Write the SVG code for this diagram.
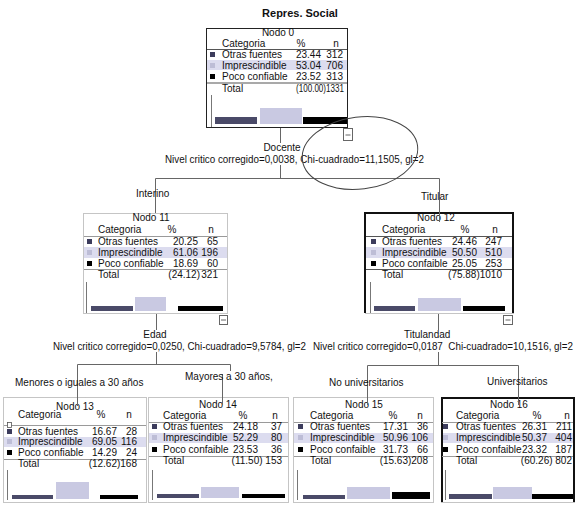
<svg xmlns="http://www.w3.org/2000/svg" width="579" height="507" viewBox="0 0 579 507">
<style>
text{font-family:"Liberation Sans",Arial,sans-serif;font-size:10px;fill:#111}
.title{font-size:11px;font-weight:bold}
.mid{text-anchor:middle}
.end{text-anchor:end}
.box{fill:#fff;stroke:#222;stroke-width:1}
.dot{fill:#fff;stroke:#8a8a8a;stroke-width:1;stroke-dasharray:1 1}
.thick{fill:none;stroke:#111;stroke-width:2}
.sep{stroke:#9a9a9a;stroke-width:1}
.sep2{stroke:#555;stroke-width:1.2}
.band{fill:#dcdcef}
.m1{fill:#3c3c5c}
.m2{fill:#bdbdd6}
.m3{fill:#000}
.b1{fill:#4a4a68}
.b2{fill:#c9c9e2}
.b3{fill:#000}
.axis{stroke:#777;stroke-width:1}
.conn{fill:none;stroke:#666;stroke-width:1}
.minus{fill:#fff;stroke:#666;stroke-width:1}
.ell{fill:none;stroke:#444;stroke-width:1}
</style>

<text class="title mid" x="300" y="17">Repres. Social</text>

<g id="node0">
<rect class="box" x="206.5" y="28.5" width="141" height="99"/>
<text class="mid" x="278" y="36">Nodo 0</text>
<text x="222" y="47">Categoria</text><text class="mid" x="301" y="47">%</text><text class="mid" x="336" y="47">n</text>
<line class="sep2" x1="207" y1="49.5" x2="347" y2="49.5"/>
<rect class="band" x="207" y="60" width="140" height="10"/>
<rect class="m1" x="210" y="52" width="5" height="5"/><text x="222" y="58">Otras fuentes</text><text class="end" x="321" y="58">23.44</text><text class="end" x="343" y="58">312</text>
<rect class="m2" x="210" y="63" width="5" height="5"/><text x="222" y="69">Imprescindible</text><text class="end" x="321" y="69">53.04</text><text class="end" x="343" y="69">706</text>
<rect class="m3" x="210" y="74" width="5" height="5"/><text x="222" y="80">Poco confiable</text><text class="end" x="321" y="80">23.52</text><text class="end" x="343" y="80">313</text>
<line class="sep2" x1="207" y1="83" x2="347" y2="83" stroke-width="1.6"/>
<text x="222" y="92">Total</text><text x="296" y="92" textLength="48" lengthAdjust="spacingAndGlyphs">(100.00)1331</text>
<line class="axis" x1="211.5" y1="95" x2="211.5" y2="127"/>
<rect class="b1" x="215" y="117" width="42" height="7"/>
<rect class="b2" x="260" y="108" width="42" height="16"/>
<rect class="b3" x="303" y="117" width="44" height="7"/>
<rect class="minus" x="343.5" y="128.5" width="9" height="12"/><line x1="345.5" y1="135" x2="350.5" y2="135" stroke="#666"/>
</g>

<g id="node11">
<rect class="dot" x="83.5" y="213.5" width="144" height="100"/>
<text class="mid" x="151" y="221">Nodo 11</text>
<text x="98" y="233">Categoria</text><text class="mid" x="172" y="233">%</text><text class="mid" x="211" y="233">n</text>
<line class="sep" x1="84" y1="236.5" x2="227" y2="236.5"/>
<rect class="band" x="84" y="247" width="143" height="11"/>
<rect class="m1" x="87" y="239" width="5" height="5"/><text x="98" y="245">Otras fuentes</text><text class="end" x="198" y="245">20.25</text><text class="end" x="218" y="245">65</text>
<rect class="m2" x="87" y="250" width="5" height="5"/><text x="98" y="256">Imprescindible</text><text class="end" x="198" y="256">61.06</text><text class="end" x="218" y="256">196</text>
<rect class="m3" x="87" y="261" width="5" height="5"/><text x="98" y="267">Poco confiable</text><text class="end" x="198" y="267">18.69</text><text class="end" x="218" y="267">60</text>
<line class="sep" x1="84" y1="269.5" x2="227" y2="269.5"/>
<text x="98" y="278">Total</text><text class="end" x="200" y="278">(24.12)</text><text class="end" x="218" y="278">321</text>
<line class="axis" x1="86.5" y1="282" x2="86.5" y2="313"/>
<rect class="b1" x="91" y="306" width="42" height="5"/>
<rect class="b2" x="135" y="297" width="31" height="14"/>
<rect class="b3" x="178" y="306" width="45" height="5"/>
<rect class="minus" x="219.5" y="315.5" width="8" height="9"/><line x1="221" y1="320" x2="226" y2="320" stroke="#666"/>
</g>

<g id="node12">
<rect class="dot" x="365.5" y="213.5" width="148" height="100"/>
<path class="thick" d="M365,313 V213 H513 V313"/>
<text class="mid" x="436" y="221">Nodo 12</text>
<text x="382" y="233">Categoria</text><text class="mid" x="465" y="233">%</text><text class="mid" x="495" y="233">n</text>
<line class="sep2" x1="366" y1="236.5" x2="512" y2="236.5"/>
<rect class="band" x="366" y="247" width="146" height="11"/>
<rect class="m1" x="371" y="239" width="5" height="5"/><text x="382" y="245">Otras fuentes</text><text class="end" x="477" y="245">24.46</text><text class="end" x="502" y="245">247</text>
<rect class="m2" x="371" y="250" width="5" height="5"/><text x="382" y="256">Imprescindible</text><text class="end" x="477" y="256">50.50</text><text class="end" x="502" y="256">510</text>
<rect class="m3" x="371" y="261" width="5" height="5"/><text x="382" y="267">Poco confaible</text><text class="end" x="477" y="267">25.05</text><text class="end" x="502" y="267">253</text>
<line class="sep2" x1="366" y1="269.5" x2="512" y2="269.5" stroke-width="1.6"/>
<text x="382" y="278">Total</text><text class="end" x="502" y="278">(75.88)1010</text>
<line class="axis" x1="370.5" y1="282" x2="370.5" y2="313"/>
<rect class="b1" x="374" y="306" width="41" height="5"/>
<rect class="b2" x="418" y="298" width="43" height="13"/>
<rect class="b3" x="463" y="306" width="42" height="5"/>
<rect class="minus" x="503.5" y="315.5" width="9" height="9"/><line x1="505.5" y1="320" x2="510.5" y2="320" stroke="#666"/>
</g>

<g id="node13">
<rect class="dot" x="3.5" y="397.5" width="143" height="105"/>
<text class="mid" x="75" y="410">Nodo 13</text>
<text x="18" y="418">Categoria</text><text class="mid" x="101" y="418">%</text><text class="mid" x="129" y="418">n</text>
<line class="sep" x1="4" y1="425.5" x2="146" y2="425.5"/>
<rect class="band" x="4" y="437" width="142" height="10"/>
<rect x="7.5" y="422.5" width="4" height="5" fill="#fff" stroke="#555" stroke-width="0.8"/>
<rect class="m1" x="7" y="429" width="5" height="5"/><text x="18" y="435">Otras fuentes</text><text class="end" x="117" y="435">16.67</text><text class="end" x="137" y="435">28</text>
<rect class="m2" x="7" y="439" width="5" height="5"/><text x="18" y="445">Imprescindible</text><text class="end" x="117" y="445">69.05</text><text class="end" x="137" y="445">116</text>
<rect class="m3" x="7" y="450" width="5" height="5"/><text x="18" y="456">Poco confiable</text><text class="end" x="117" y="456">14.29</text><text class="end" x="137" y="456">24</text>
<line class="sep" x1="4" y1="459.5" x2="146" y2="459.5"/>
<text x="18" y="467">Total</text><text class="end" x="137" y="467">(12.62)168</text>
<line class="axis" x1="7.5" y1="470" x2="7.5" y2="500"/>
<rect class="b1" x="12" y="495" width="41" height="4"/>
<rect class="b2" x="56" y="482" width="33" height="17"/>
<rect class="b3" x="100" y="495" width="38" height="4"/>
</g>

<g id="node14">
<rect class="dot" x="148.5" y="397.5" width="140" height="105"/>
<text class="mid" x="218" y="408">Nodo 14</text>
<text x="163" y="419">Categoria</text><text class="mid" x="243" y="419">%</text><text class="mid" x="275" y="419">n</text>
<line class="sep" x1="149" y1="422.5" x2="288" y2="422.5"/>
<rect class="band" x="149" y="433" width="139" height="10"/>
<rect class="m1" x="152" y="424" width="5" height="5"/><text x="163" y="430">Otras fuentes</text><text class="end" x="258" y="430">24.18</text><text class="end" x="282" y="430">37</text>
<rect class="m2" x="152" y="435" width="5" height="5"/><text x="163" y="441">Imprescindible</text><text class="end" x="258" y="441">52.29</text><text class="end" x="282" y="441">80</text>
<rect class="m3" x="152" y="447" width="5" height="5"/><text x="163" y="453">Poco confaible</text><text class="end" x="258" y="453">23.53</text><text class="end" x="282" y="453">36</text>
<line class="sep" x1="149" y1="456.5" x2="288" y2="456.5"/>
<text x="163" y="464">Total</text><text class="end" x="282" y="464">(11.50) 153</text>
<line class="axis" x1="152.5" y1="470" x2="152.5" y2="500"/>
<rect class="b1" x="157" y="494" width="42" height="4"/>
<rect class="b2" x="201" y="487" width="38" height="11"/>
<rect class="b3" x="242" y="494" width="43" height="4"/>
</g>

<g id="node15">
<rect class="dot" x="293.5" y="397.5" width="140" height="105"/>
<text class="mid" x="364" y="408">Nodo 15</text>
<text x="310" y="419">Categoria</text><text class="mid" x="393" y="419">%</text><text class="mid" x="420" y="419">n</text>
<line class="sep" x1="294" y1="422.5" x2="433" y2="422.5"/>
<rect class="band" x="294" y="433" width="139" height="10"/>
<rect class="m1" x="298" y="424" width="5" height="5"/><text x="310" y="430">Otras fuentes</text><text class="end" x="408" y="430">17.31</text><text class="end" x="428" y="430">36</text>
<rect class="m2" x="298" y="435" width="5" height="5"/><text x="310" y="441">Imprescindible</text><text class="end" x="408" y="441">50.96</text><text class="end" x="428" y="441">106</text>
<rect class="m3" x="298" y="447" width="5" height="5"/><text x="310" y="453">Poco confaible</text><text class="end" x="408" y="453">31.73</text><text class="end" x="428" y="453">66</text>
<line class="sep" x1="294" y1="456.5" x2="433" y2="456.5"/>
<text x="310" y="464">Total</text><text class="end" x="428" y="464">(15.63)208</text>
<line class="axis" x1="297.5" y1="470" x2="297.5" y2="500"/>
<rect class="b1" x="303" y="495" width="42" height="4"/>
<rect class="b2" x="347" y="487" width="43" height="12"/>
<rect class="b3" x="392" y="492" width="38" height="7"/>
</g>

<g id="node16">
<rect class="dot" x="441.5" y="397.5" width="133" height="105"/>
<path class="thick" d="M442,502 V398 H574 V502"/>
<text class="mid" x="509" y="408">Nodo 16</text>
<text x="456" y="419">Categoria</text><text class="mid" x="537" y="419">%</text><text class="mid" x="567" y="419">n</text>
<line class="sep" x1="442" y1="422.5" x2="573" y2="422.5"/>
<rect class="band" x="443" y="433" width="130" height="10"/>
<rect class="m1" x="443" y="424" width="5" height="5"/><text x="456" y="430">Otras fuentes</text><text class="end" x="547" y="430">26.31</text><text class="end" x="572" y="430">211</text>
<rect class="m2" x="443" y="435" width="5" height="5"/><text x="456" y="441">Imprescindible</text><text class="end" x="547" y="441">50.37</text><text class="end" x="572" y="441">404</text>
<rect class="m3" x="443" y="447" width="5" height="5"/><text x="456" y="453">Poco confaible</text><text class="end" x="547" y="453">23.32</text><text class="end" x="572" y="453">187</text>
<line class="sep" x1="442" y1="456.5" x2="573" y2="456.5"/>
<text x="456" y="464">Total</text><text class="end" x="572" y="464">(60.26) 802</text>
<line class="axis" x1="445.5" y1="470" x2="445.5" y2="500"/>
<rect class="b1" x="449" y="494" width="43" height="5"/>
<rect class="b2" x="493" y="487" width="39" height="12"/>
<rect class="b3" x="532" y="494" width="41" height="5"/>
</g>

<g id="connectors">
<path class="conn" d="M280.5,128 V143 M280.5,165 V178.5 M155.5,178.5 H439.5 M155.5,178.5 V213 M439.5,178.5 V222"/>
<path class="conn" d="M156.5,314 V330 M156.5,352 V364.5 M77.5,364.5 H230.5 M77.5,364.5 V406 M230.5,364.5 V371 M222.5,374 V405"/>
<path class="conn" d="M438.5,314 V330 M438.5,352 V365.5 M367.5,365.5 H518.5 M367.5,365.5 V405 M518.5,365.5 V405"/>
<text class="mid" x="282" y="151">Docente</text>
<text x="165" y="163" textLength="259" lengthAdjust="spacingAndGlyphs">Nivel critico corregido=0,0038, Chi-cuadrado=11,1505, gl=2</text>
<text x="136" y="197">Interino</text>
<text x="421" y="200">Titular</text>
<text class="mid" x="155" y="338">Edad</text>
<text x="53" y="350" textLength="253" lengthAdjust="spacingAndGlyphs">Nivel critico corregido=0,0250, Chi-cuadrado=9,5784, gl=2</text>
<text x="404" y="338">Titulandad</text>
<text x="313" y="350" xml:space="preserve" textLength="260" lengthAdjust="spacingAndGlyphs">Nivel critico corregido=0,0187  Chi-cuadrado=10,1516, gl=2</text>
<text x="15" y="386">Menores o iguales a 30 años</text>
<text x="185" y="380">Mayores a 30 años,</text>
<text x="329" y="386">No universitarios</text>
<text x="487" y="385">Universitarios</text>
</g>

<ellipse class="ell" cx="360" cy="153" rx="58" ry="36" transform="rotate(-7 360 153)"/>
</svg>
